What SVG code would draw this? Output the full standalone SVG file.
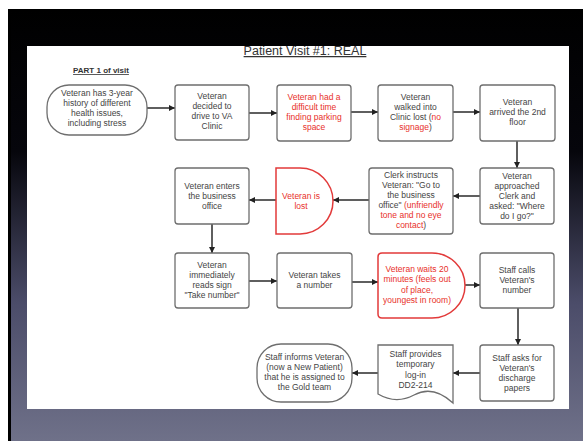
<svg xmlns="http://www.w3.org/2000/svg" width="583" height="441" viewBox="0 0 583 441">
<defs>
<linearGradient id="bg" x1="0" y1="0" x2="0" y2="1">
<stop offset="0" stop-color="#000000"/>
<stop offset="0.33" stop-color="#06060c"/>
<stop offset="0.68" stop-color="#4b4c69"/>
<stop offset="1" stop-color="#6f7189"/>
</linearGradient>
<marker id="ah" viewBox="0 0 10 10" refX="10" refY="5" markerWidth="7" markerHeight="6" markerUnits="userSpaceOnUse" orient="auto">
<path d="M0,0 L10,5 L0,10 Z" fill="#222"/>
</marker>
<style>
.box{fill:#fff;stroke:#6e6e6e;stroke-width:1.3}
.red{fill:#fff;stroke:#e23a3a;stroke-width:1.5}
.t{font-family:"Liberation Sans",Arial,sans-serif;font-size:8.5px;fill:#444;text-anchor:middle}
.r{fill:#e8302a}
.c{stroke:#2a2a2a;stroke-width:1.5;fill:none;marker-end:url(#ah)}
.cl{stroke:#2a2a2a;stroke-width:1.5;fill:none}
</style>
</defs>
<rect x="0" y="0" width="583" height="441" fill="#ffffff"/>
<rect x="8" y="9" width="575" height="432" fill="#000"/>
<rect x="11" y="9" width="572" height="432" fill="url(#bg)"/>
<rect x="27" y="46" width="542" height="363" fill="#ffffff"/>

<text x="305" y="55" font-family="Liberation Sans,Arial,sans-serif" font-size="12.5" fill="#333" text-anchor="middle" text-decoration="underline">Patient Visit #1: REAL</text>
<text x="101" y="73" font-family="Liberation Sans,Arial,sans-serif" font-size="8" font-weight="bold" fill="#333" text-anchor="middle" text-decoration="underline">PART 1 of visit</text>

<g id="connectors">
<line class="c" x1="147" y1="108" x2="175" y2="108"/>
<line class="c" x1="249" y1="113" x2="277" y2="113"/>
<line class="c" x1="351" y1="112" x2="378" y2="112"/>
<line class="c" x1="453" y1="112" x2="480" y2="112"/>
<line class="c" x1="517" y1="141" x2="517" y2="168"/>
<line class="c" x1="480" y1="196" x2="453" y2="196"/>
<line class="c" x1="369" y1="200" x2="333" y2="200"/>
<line class="c" x1="276" y1="200" x2="249" y2="200"/>
<line class="c" x1="212" y1="224" x2="212" y2="253"/>
<line class="c" x1="249" y1="281" x2="277" y2="281"/>
<line class="c" x1="352" y1="282" x2="378" y2="282"/>
<line class="c" x1="465" y1="285" x2="480" y2="285"/>
<line class="c" x1="518" y1="308" x2="518" y2="345"/>
<line class="c" x1="480" y1="373" x2="453" y2="373"/>
<line class="c" x1="378" y1="373" x2="352" y2="373"/>
</g>

<g id="n1">
<rect class="box" x="47" y="85" width="100" height="50" rx="22" ry="22"/>
<text class="t"><tspan x="97" y="96">Veteran has 3-year</tspan><tspan x="97" y="106">history of different</tspan><tspan x="97" y="116">health issues,</tspan><tspan x="97" y="126">including stress</tspan></text>
</g>
<g id="n2">
<rect class="box" x="175" y="85" width="74" height="55" rx="3"/>
<text class="t"><tspan x="212" y="99">Veteran</tspan><tspan x="212" y="109">decided to</tspan><tspan x="212" y="119">drive to VA</tspan><tspan x="212" y="129">Clinic</tspan></text>
</g>
<g id="n3">
<rect class="box" x="277" y="85" width="74" height="56" rx="3"/>
<text class="t r"><tspan x="314" y="100">Veteran had a</tspan><tspan x="314" y="110">difficult time</tspan><tspan x="314" y="120">finding parking</tspan><tspan x="314" y="130">space</tspan></text>
</g>
<g id="n4">
<rect class="box" x="378" y="85" width="75" height="56" rx="3"/>
<text class="t"><tspan x="415.5" y="100">Veteran</tspan><tspan x="415.5" y="110">walked into</tspan><tspan x="415.5" y="120">Clinic lost (<tspan class="r">no</tspan></tspan><tspan x="415.5" y="130"><tspan class="r">signage</tspan>)</tspan></text>
</g>
<g id="n5">
<rect class="box" x="480" y="85" width="75" height="56" rx="3"/>
<text class="t"><tspan x="517.5" y="105">Veteran</tspan><tspan x="517.5" y="115">arrived the 2nd</tspan><tspan x="517.5" y="125">floor</tspan></text>
</g>
<g id="n6">
<rect class="box" x="480" y="168" width="74" height="56" rx="3"/>
<text class="t"><tspan x="517" y="179">Veteran</tspan><tspan x="517" y="189">approached</tspan><tspan x="517" y="199">Clerk and</tspan><tspan x="517" y="209">asked: "Where</tspan><tspan x="517" y="219">do I go?"</tspan></text>
</g>
<g id="n7">
<rect class="box" x="369" y="168" width="84" height="66" rx="3"/>
<text class="t"><tspan x="411" y="178">Clerk instructs</tspan><tspan x="411" y="188">Veteran: "Go to</tspan><tspan x="411" y="198">the business</tspan><tspan x="411" y="208">office" <tspan class="r">(unfriendly</tspan></tspan><tspan x="411" y="218" class="r">tone and no eye</tspan><tspan x="411" y="228"><tspan class="r">contact</tspan>)</tspan></text>
</g>
<g id="n8">
<path class="red" d="M276,168 H300 A33,33 0 0 1 300,234 H276 Z"/>
<text class="t r"><tspan x="301" y="199">Veteran is</tspan><tspan x="301" y="209">lost</tspan></text>
</g>
<g id="n9">
<rect class="box" x="175" y="168" width="74" height="56" rx="3"/>
<text class="t"><tspan x="212" y="189">Veteran enters</tspan><tspan x="212" y="199">the business</tspan><tspan x="212" y="209">office</tspan></text>
</g>
<g id="n10">
<rect class="box" x="175" y="253" width="74" height="55" rx="3"/>
<text class="t"><tspan x="212" y="268">Veteran</tspan><tspan x="212" y="278">immediately</tspan><tspan x="212" y="288">reads sign</tspan><tspan x="212" y="298">"Take number"</tspan></text>
</g>
<g id="n11">
<rect class="box" x="277" y="253" width="75" height="55" rx="3"/>
<text class="t"><tspan x="314.5" y="278">Veteran takes</tspan><tspan x="314.5" y="288">a number</tspan></text>
</g>
<g id="n12">
<path class="red" d="M382,253 H432 A33,32.5 0 0 1 432,318 H382 Q378,318 378,314 V257 Q378,253 382,253 Z"/>
<text class="t r"><tspan x="417" y="272">Veteran waits 20</tspan><tspan x="417" y="282">minutes (feels out</tspan><tspan x="417" y="293">of place,</tspan><tspan x="417" y="303">youngest in room)</tspan></text>
</g>
<g id="n13">
<rect class="box" x="480" y="253" width="74" height="55" rx="3"/>
<text class="t"><tspan x="517" y="273">Staff calls</tspan><tspan x="517" y="283">Veteran's</tspan><tspan x="517" y="293">number</tspan></text>
</g>
<g id="n14">
<rect class="box" x="480" y="345" width="74" height="56" rx="3"/>
<text class="t"><tspan x="517" y="361">Staff asks for</tspan><tspan x="517" y="371">Veteran's</tspan><tspan x="517" y="381">discharge</tspan><tspan x="517" y="391">papers</tspan></text>
</g>
<g id="n15">
<path class="box" d="M378,345 H453 V403 C440,391 427,388 414,395 C401,402 390,401 378,394 Z"/>
<text class="t"><tspan x="415.5" y="357">Staff provides</tspan><tspan x="415.5" y="367">temporary</tspan><tspan x="415.5" y="378">log-in</tspan><tspan x="415.5" y="388">DD2-214</tspan></text>
</g>
<g id="n16">
<rect class="box" x="257" y="344" width="95" height="58" rx="24" ry="24"/>
<text class="t"><tspan x="304.5" y="360">Staff informs Veteran</tspan><tspan x="304.5" y="370">(now a New Patient)</tspan><tspan x="304.5" y="380">that he is assigned to</tspan><tspan x="304.5" y="390">the Gold team</tspan></text>
</g>
</svg>
